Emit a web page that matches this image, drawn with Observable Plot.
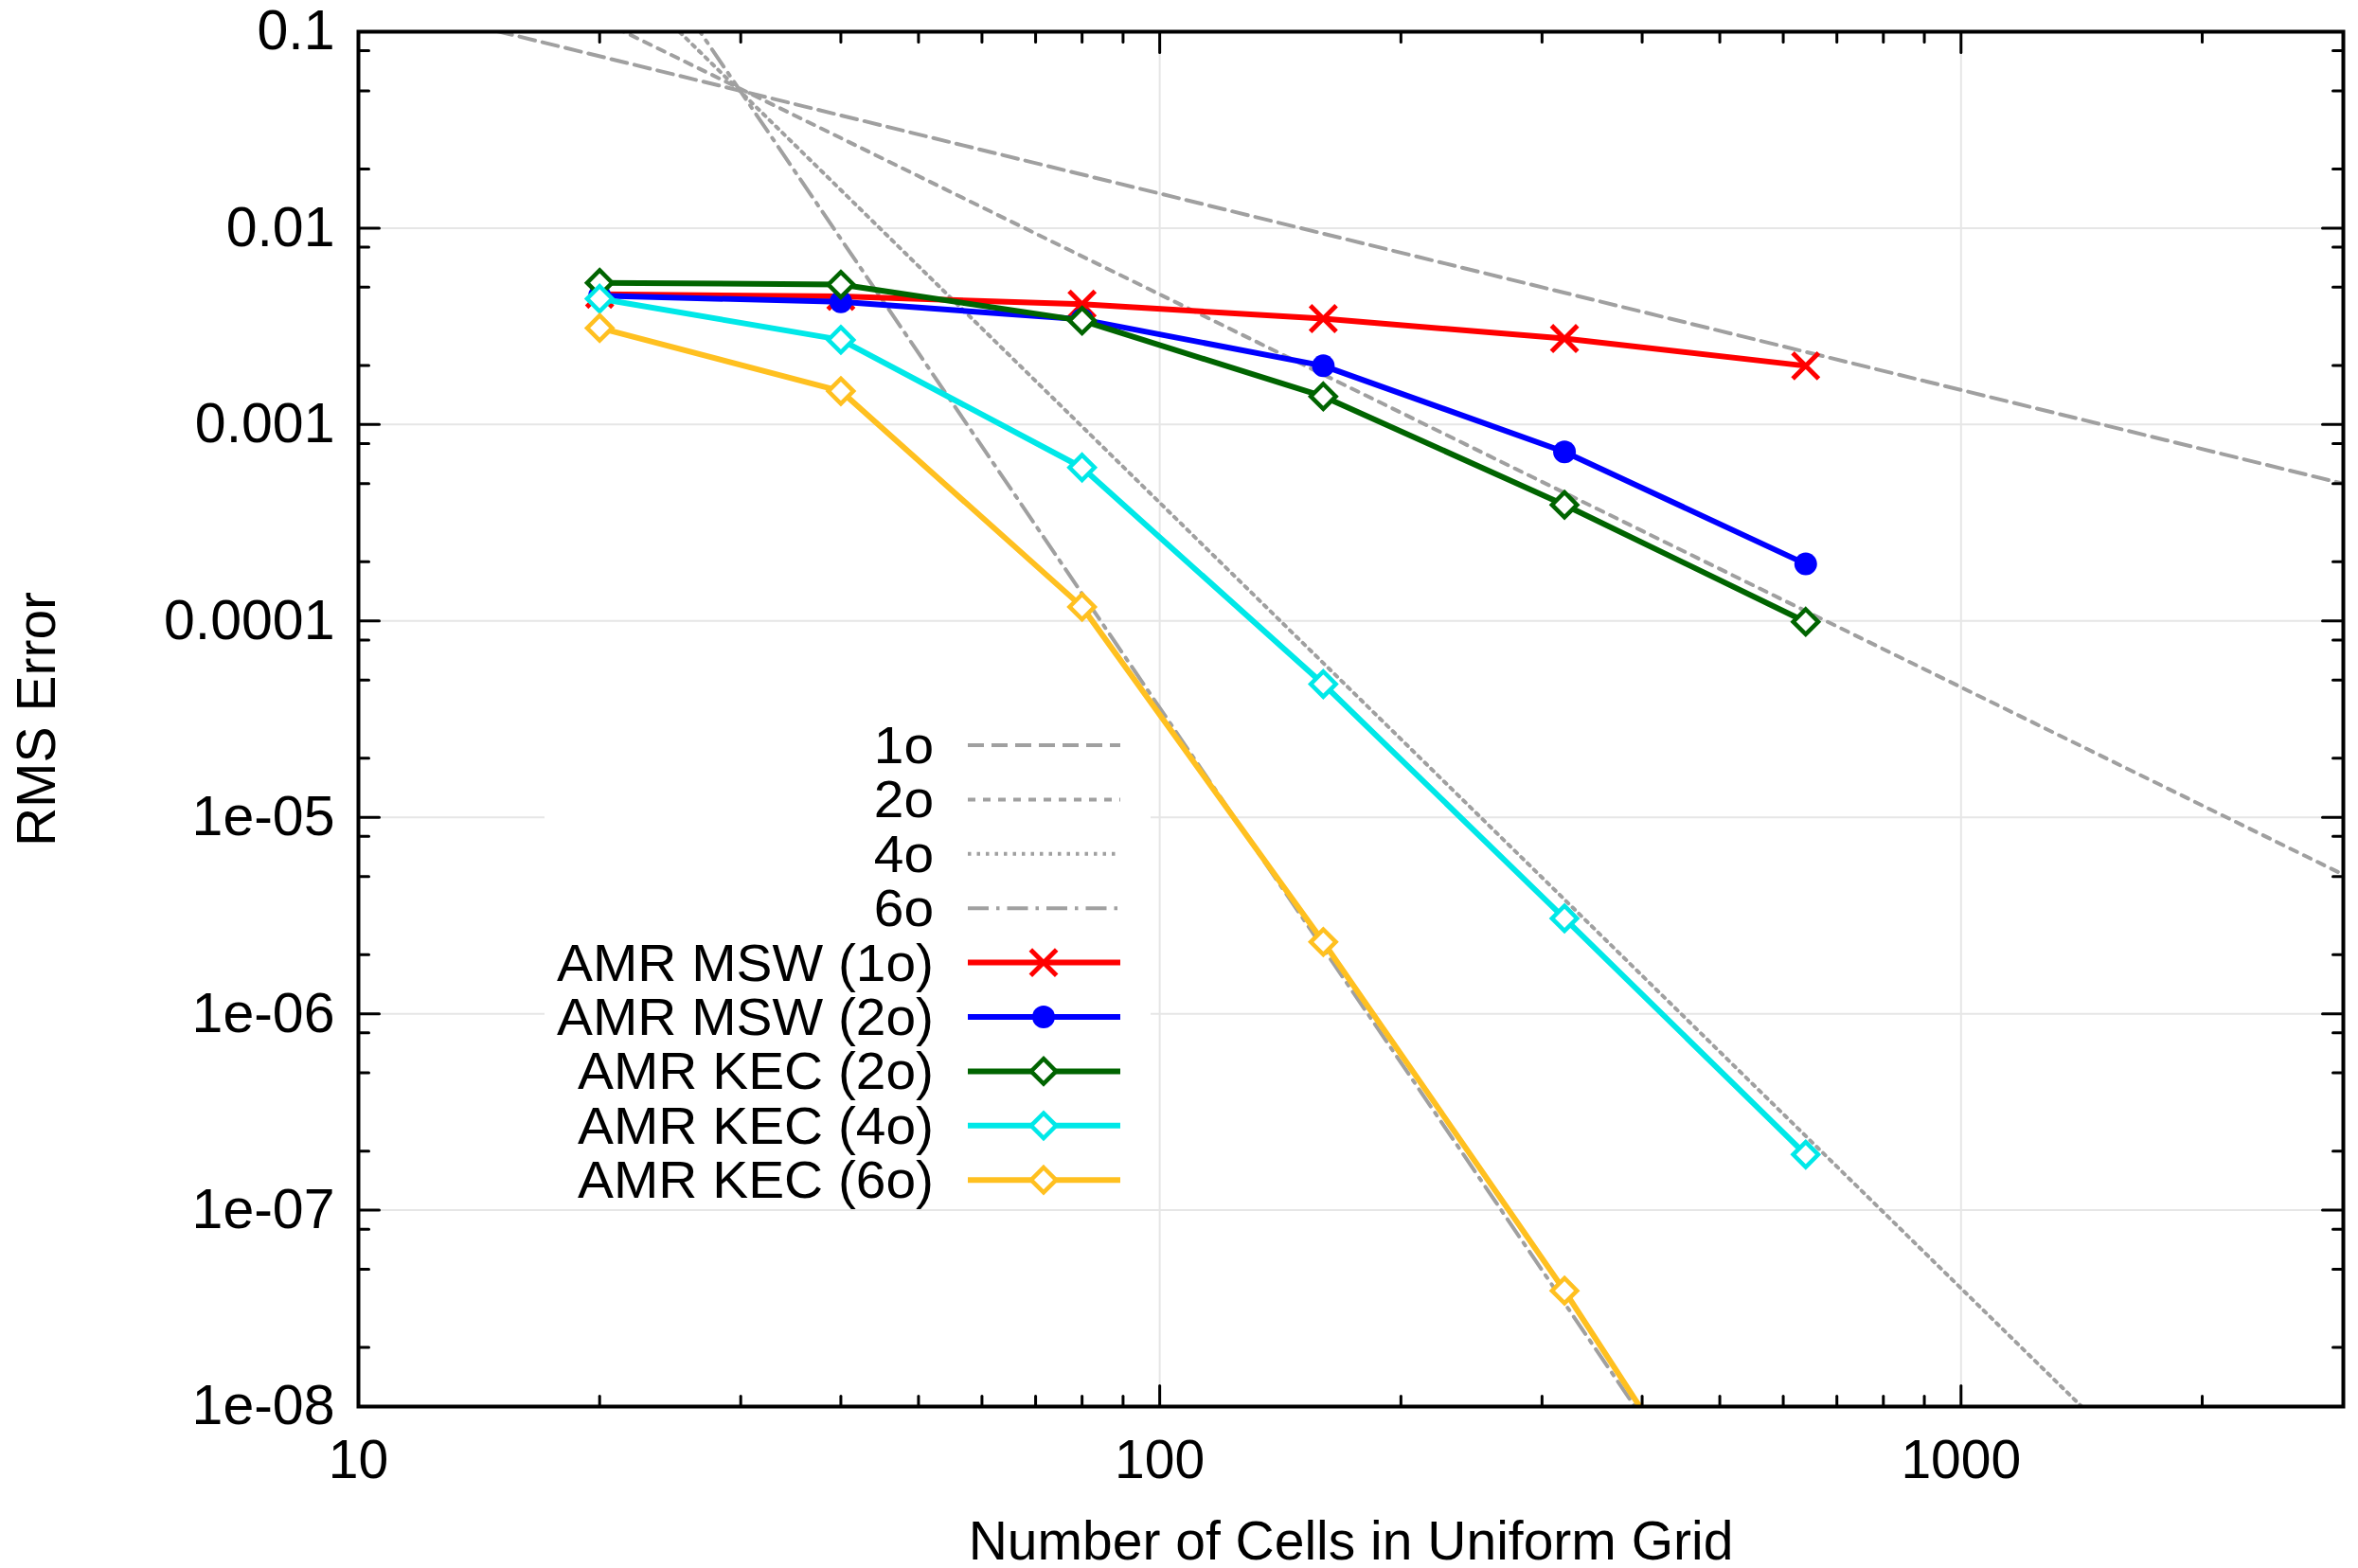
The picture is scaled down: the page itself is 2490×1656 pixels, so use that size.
<!DOCTYPE html>
<html>
<head>
<meta charset="utf-8">
<script src="https://cdn.jsdelivr.net/npm/d3@7"></script>
<script src="https://cdn.jsdelivr.net/npm/@observablehq/plot@0.6"></script>
<style>
  body { margin: 0; background: #ffffff; }
  #chart { width: 2490px; height: 1656px; }
</style>
</head>
<body>
<div id="chart"></div>
<script>
// ---------------- data ----------------
const cells = [20, 40, 80, 160, 320, 640];

const seriesNames = ["AMR MSW (1o)", "AMR MSW (2o)", "AMR KEC (2o)", "AMR KEC (4o)", "AMR KEC (6o)"];
const mswOrder1 = [4.61e-3, 4.49e-3, 4.10e-3, 3.46e-3, 2.74e-3, 1.99e-3];
const mswOrder2 = [4.53e-3, 4.21e-3, 3.43e-3, 1.99e-3, 7.26e-4, 1.95e-4];
const kecOrder2 = [5.27e-3, 5.16e-3, 3.38e-3, 1.39e-3, 3.90e-4, 9.9e-5];
const kecOrder4 = [4.37e-3, 2.70e-3, 6.04e-4, 4.77e-5, 3.06e-6, 1.92e-7];
const kecOrder6 = [3.10e-3, 1.48e-3, 1.18e-4, 2.32e-6, 3.89e-8, 5.0e-10];

// reference slopes (straight lines on log-log), given by their values at both ends of the x range
const guideNames = ["1o", "2o", "4o", "6o"];
const guideX = [10, 3000];
const guideAtLeft = [0.15, 0.46, 4.0, 36.1];
const guideAtRight = [5.0e-4, 5.11e-6, 4.94e-10, 4.95e-14];

const xTickValues = [10, 100, 1000];
const xTickLabels = ["10", "100", "1000"];
const xMinorTicks = [20, 30, 40, 50, 60, 70, 80, 90, 200, 300, 400, 500, 600, 700, 800, 900, 2000];
const yTickValues = [1e-1, 1e-2, 1e-3, 1e-4, 1e-5, 1e-6, 1e-7, 1e-8];
const yTickLabels = ["0.1", "0.01", "0.001", "0.0001", "1e-05", "1e-06", "1e-07", "1e-08"];
const yMinorTicks = [8e-2, 5e-2, 2e-2, 8e-3, 5e-3, 2e-3, 8e-4, 5e-4, 2e-4, 8e-5, 5e-5, 2e-5,
                     8e-6, 5e-6, 2e-6, 8e-7, 5e-7, 2e-7, 8e-8, 5e-8, 2e-8];

const xLabel = "Number of Cells in Uniform Grid";
const yLabel = "RMS Error";

// ---------------- styles ----------------
const seriesColors = ["#ff0000", "#0000ff", "#006400", "#00e8e8", "#ffc020"];
const guideColor = "#a0a0a0";
const guideDash = ["17,8", "8,8", "3.5,6", "22,8,3.5,8"];
const gridColor = "#e6e6e6";
const FONT = "'Liberation Sans', Arial, Helvetica, sans-serif";
const FS = 57;
const legendFS = 51, legendStretch = 1.115;

const W = 2490, H = 1656;
const mL = 378, mR = 16, mT = 33, mB = 171;
const xDomain = [10, 3000], yDomain = [1e-8, 0.1];

const openDiamond = {
  draw(ctx, size) {
    const r = Math.sqrt(size / Math.PI) * 1.15;
    ctx.moveTo(0, -r); ctx.lineTo(r, 0); ctx.lineTo(0, r); ctx.lineTo(-r, 0); ctx.closePath();
  }
};
const seriesValues = [mswOrder1, mswOrder2, kecOrder2, kecOrder4, kecOrder6];
const seriesMarker = [
  {symbol: "times", r: 12.5, fill: "none", strokeWidth: 5, useStroke: true},
  {symbol: "circle", r: 12, fill: "color", strokeWidth: 0, useStroke: false},
  {symbol: openDiamond, r: 11.5, fill: "white", strokeWidth: 4.5, useStroke: true},
  {symbol: openDiamond, r: 11.5, fill: "white", strokeWidth: 4.5, useStroke: true},
  {symbol: openDiamond, r: 11.5, fill: "white", strokeWidth: 4.5, useStroke: true}
];
const seriesWidth = 6;
const guideWidth = 4;

// ---------------- tables ----------------
const guideData = guideNames.flatMap((n, i) => [
  {name: n, x: guideX[0], y: guideAtLeft[i]},
  {name: n, x: guideX[1], y: guideAtRight[i]}
]);
const seriesData = seriesNames.map((n, s) => cells.map((c, i) => ({name: n, x: c, y: seriesValues[s][i]})));

const tickShape = {draw(ctx, l) { ctx.moveTo(0, 0); ctx.lineTo(0, -l); }};
const tick = (data, opts) => Plot.vector(data, {anchor: "start", shape: tickShape, stroke: "black", strokeWidth: 3, ...opts});

const xLabelOf = new Map(xTickValues.map((v, i) => [v, xTickLabels[i]]));
const yLabelOf = new Map(yTickValues.map((v, i) => [v, yTickLabels[i]]));

const marks = [
  Plot.ruleX(xTickValues, {x: d => d, stroke: gridColor, strokeWidth: 2}),
  Plot.ruleY(yTickValues, {y: d => d, stroke: gridColor, strokeWidth: 2}),
  ...guideNames.map((n, i) => Plot.line(guideData.filter(d => d.name === n), {
    x: "x", y: "y", stroke: guideColor, strokeWidth: guideWidth, strokeDasharray: guideDash[i], clip: true
  }))
];
seriesNames.forEach((n, s) => {
  const m = seriesMarker[s];
  marks.push(Plot.line(seriesData[s], {x: "x", y: "y", stroke: seriesColors[s], strokeWidth: seriesWidth, clip: true}));
  marks.push(Plot.dot(seriesData[s], {
    x: "x", y: "y", symbol: m.symbol, r: m.r,
    fill: m.fill === "color" ? seriesColors[s] : m.fill,
    stroke: m.useStroke ? seriesColors[s] : "none",
    strokeWidth: m.strokeWidth, clip: true
  }));
});
marks.push(
  tick(xTickValues, {x: d => d, y: yDomain[0], length: 22, rotate: 0}),
  tick(xMinorTicks, {x: d => d, y: yDomain[0], length: 11, rotate: 0}),
  tick(xTickValues, {x: d => d, y: yDomain[1], length: 22, rotate: 180}),
  tick(xMinorTicks, {x: d => d, y: yDomain[1], length: 11, rotate: 180}),
  tick(yTickValues, {y: d => d, x: xDomain[0], length: 22, rotate: 90}),
  tick(yMinorTicks, {y: d => d, x: xDomain[0], length: 11, rotate: 90}),
  tick(yTickValues, {y: d => d, x: xDomain[1], length: 22, rotate: -90}),
  tick(yMinorTicks, {y: d => d, x: xDomain[1], length: 11, rotate: -90}),
  Plot.frame({stroke: "black", strokeWidth: 4}),
  Plot.axisX({ticks: xTickValues, tickFormat: d => xLabelOf.get(d), tickSize: 0, tickPadding: 35, fontSize: FS, label: null}),
  Plot.axisY({ticks: yTickValues, tickFormat: d => yLabelOf.get(d), tickSize: 0, tickPadding: 25, fontSize: 59, label: null}),
  Plot.text([xLabel], {text: d => d, frameAnchor: "bottom", lineAnchor: "middle", textAnchor: "middle", dy: 143, fontSize: FS}),
  Plot.text([yLabel], {text: d => d, frameAnchor: "left", lineAnchor: "middle", textAnchor: "middle", dx: -339, rotate: -90, fontSize: FS})
);

const plot = Plot.plot({
  width: W, height: H,
  marginLeft: mL, marginRight: mR, marginTop: mT, marginBottom: mB,
  x: {type: "log", domain: xDomain},
  y: {type: "log", domain: yDomain},
  style: {fontFamily: FONT, fontSize: FS + "px", background: "#ffffff", color: "black", overflow: "visible"},
  marks
});
document.getElementById("chart").appendChild(plot);

// ---------------- legend (inside the frame, opaque white key box) ----------------
const svg = d3.select(plot);
const groups = Array.from(plot.children).filter(n => n.tagName.toLowerCase() === "g");
const box = document.createElementNS("http://www.w3.org/2000/svg", "rect");
box.setAttribute("x", 575); box.setAttribute("y", 752);
box.setAttribute("width", 640); box.setAttribute("height", 518);
box.setAttribute("fill", "#ffffff");
if (groups.length > 1) plot.insertBefore(box, groups[1].nextSibling);
else plot.appendChild(box);

const legend = svg.append("g").attr("font-family", FONT).attr("font-size", legendFS);
const rowY0 = 787, rowStep = 57.4, textX = 986, lineX1 = 1022, lineX2 = 1183, markX = 1102;
const entries = [
  ...guideNames.map((n, i) => ({label: n, guide: i})),
  ...seriesNames.map((n, s) => ({label: n, series: s}))
];
entries.forEach((e, k) => {
  const y = rowY0 + k * rowStep;
  legend.append("text").attr("transform", `translate(${textX},${y}) scale(${legendStretch},1.1)`)
    .attr("dy", "0.34em")
    .attr("text-anchor", "end").attr("fill", "black").text(e.label);
  if (e.guide !== undefined) {
    legend.append("line").attr("x1", lineX1).attr("x2", lineX2).attr("y1", y).attr("y2", y)
      .attr("stroke", guideColor).attr("stroke-width", guideWidth).attr("stroke-dasharray", guideDash[e.guide]);
  } else {
    const s = e.series, m = seriesMarker[s];
    legend.append("line").attr("x1", lineX1).attr("x2", lineX2).attr("y1", y).attr("y2", y)
      .attr("stroke", seriesColors[s]).attr("stroke-width", seriesWidth);
    const type = m.symbol === "times" ? d3.symbolTimes : m.symbol === "circle" ? d3.symbolCircle : m.symbol;
    legend.append("path").attr("transform", `translate(${markX},${y})`)
      .attr("d", d3.symbol(type, Math.PI * m.r * m.r)())
      .attr("fill", m.fill === "color" ? seriesColors[s] : m.fill)
      .attr("stroke", m.useStroke ? seriesColors[s] : "none")
      .attr("stroke-width", m.strokeWidth);
  }
});
</script>
</body>
</html>
